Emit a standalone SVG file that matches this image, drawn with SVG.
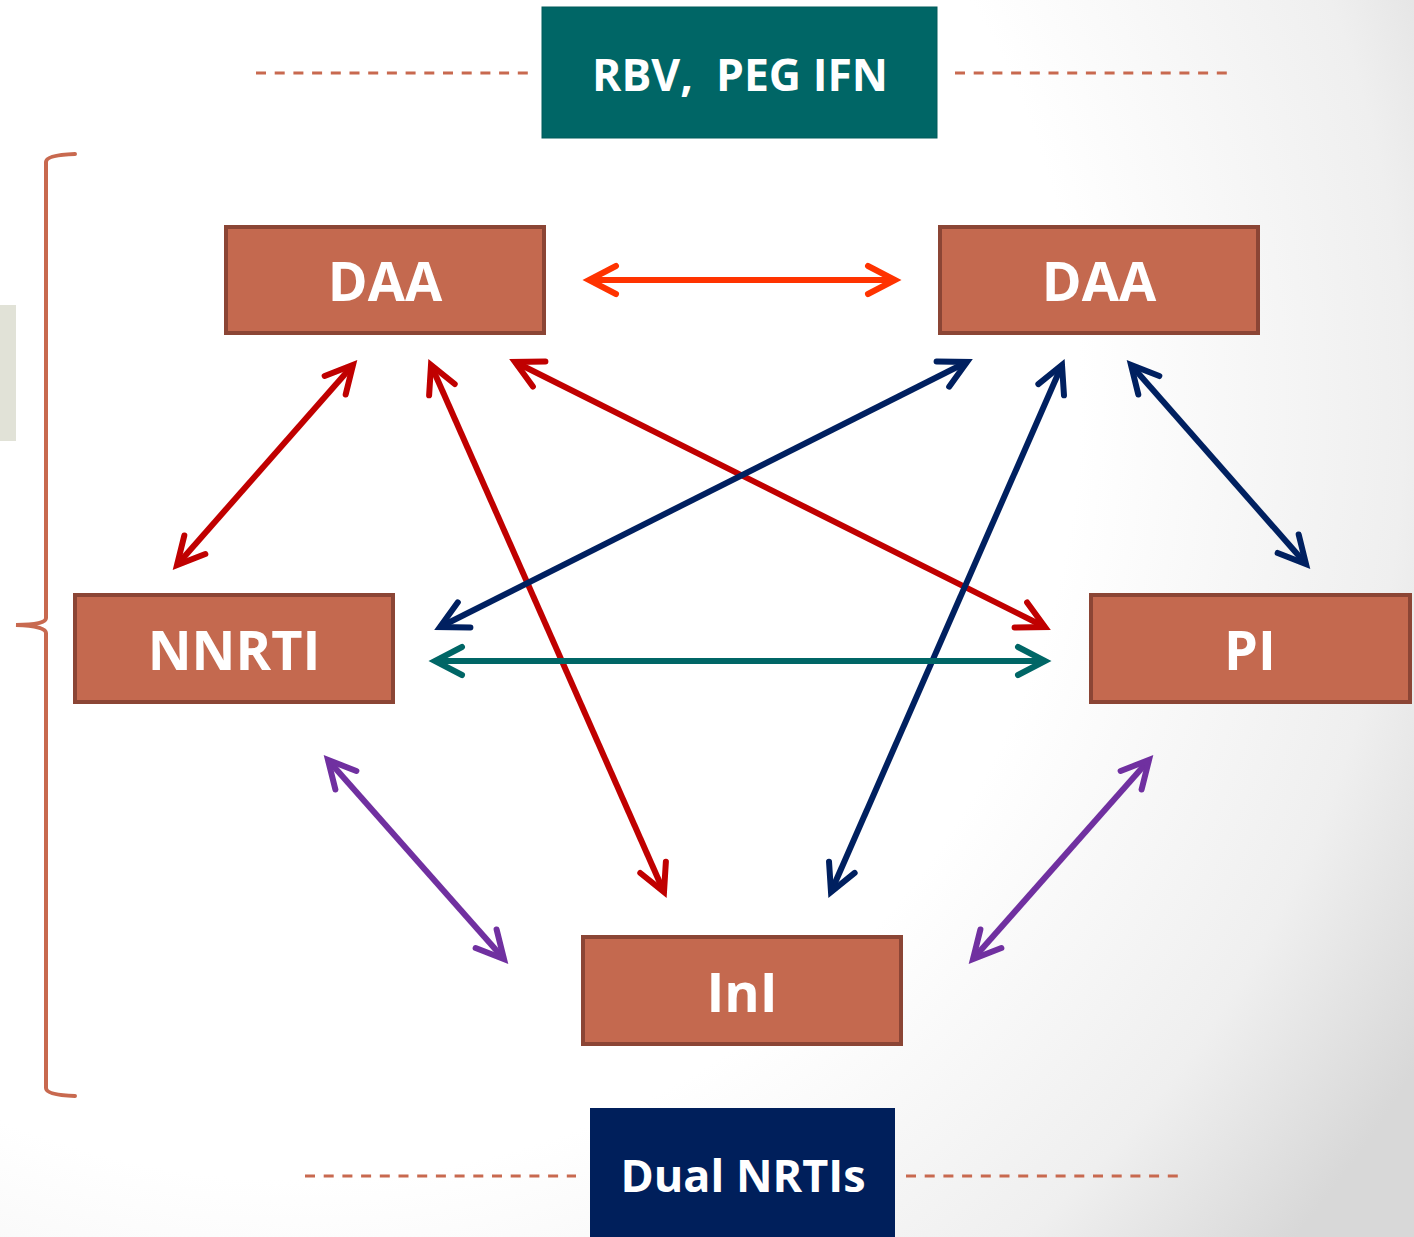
<svg xmlns="http://www.w3.org/2000/svg" width="1414" height="1237" viewBox="0 0 1414 1237">
<style>
.node rect{fill:#c4694f;stroke:#8b4535;stroke-width:4}
.lbl{font-family:"Open Sans","Liberation Sans",sans-serif;font-weight:700;fill:#fff;text-anchor:middle}
.dash{stroke:#c8694f;stroke-width:3;stroke-dasharray:10 8.7;fill:none}
.c line{stroke-width:6;fill:none}
</style>
<defs>
<radialGradient id="bg" gradientUnits="userSpaceOnUse" cx="300" cy="400" r="1300">
<stop offset="0.6" stop-color="#ffffff"/>
<stop offset="0.85" stop-color="#efefef"/>
<stop offset="1" stop-color="#d8d8d8"/>
</radialGradient>
<marker id="mO" markerUnits="userSpaceOnUse" viewBox="-40 -25 50 50" refX="0" refY="0" markerWidth="50" markerHeight="50" orient="auto-start-reverse"><path d="M-27 -14 L0 0 L-27 14" fill="none" stroke="#ff3300" stroke-width="6" stroke-linecap="round"/></marker>
<marker id="mR" markerUnits="userSpaceOnUse" viewBox="-40 -25 50 50" refX="0" refY="0" markerWidth="50" markerHeight="50" orient="auto-start-reverse"><path d="M-27 -14 L0 0 L-27 14" fill="none" stroke="#c00000" stroke-width="6" stroke-linecap="round"/></marker>
<marker id="mN" markerUnits="userSpaceOnUse" viewBox="-40 -25 50 50" refX="0" refY="0" markerWidth="50" markerHeight="50" orient="auto-start-reverse"><path d="M-27 -14 L0 0 L-27 14" fill="none" stroke="#002060" stroke-width="6" stroke-linecap="round"/></marker>
<marker id="mT" markerUnits="userSpaceOnUse" viewBox="-40 -25 50 50" refX="0" refY="0" markerWidth="50" markerHeight="50" orient="auto-start-reverse"><path d="M-27 -14 L0 0 L-27 14" fill="none" stroke="#006666" stroke-width="6" stroke-linecap="round"/></marker>
<marker id="mP" markerUnits="userSpaceOnUse" viewBox="-40 -25 50 50" refX="0" refY="0" markerWidth="50" markerHeight="50" orient="auto-start-reverse"><path d="M-27 -14 L0 0 L-27 14" fill="none" stroke="#7030a0" stroke-width="6" stroke-linecap="round"/></marker>
</defs>
<rect width="1414" height="1237" fill="url(#bg)"/>
<rect x="0" y="305" width="16" height="136" fill="#e1e2d7"/>
<path d="M75 154 Q46 155 46 162 L46 618 Q46 625 16 625 Q46 626 46 633 L46 1088 Q46 1095 75 1096" fill="none" stroke="#c8694f" stroke-width="4" stroke-linecap="round"/>
<line class="dash" x1="256" y1="73" x2="528" y2="73"/>
<line class="dash" x1="955" y1="73" x2="1228" y2="73"/>
<line class="dash" x1="305" y1="1176" x2="576" y2="1176"/>
<line class="dash" x1="906" y1="1176" x2="1178" y2="1176"/>
<g class="c" id="connectors">
<line x1="589" y1="280" x2="895" y2="280" stroke="#ff3300" marker-start="url(#mO)" marker-end="url(#mO)"/>
<line x1="353" y1="365" x2="177" y2="565" stroke="#c00000" marker-start="url(#mR)" marker-end="url(#mR)"/>
<line x1="431" y1="365" x2="664" y2="892" stroke="#c00000" marker-start="url(#mR)" marker-end="url(#mR)"/>
<line x1="515" y1="362" x2="1045" y2="627" stroke="#c00000" marker-start="url(#mR)" marker-end="url(#mR)"/>
<line x1="967" y1="362" x2="440" y2="627" stroke="#002060" marker-start="url(#mN)" marker-end="url(#mN)"/>
<line x1="1062" y1="365" x2="831" y2="892" stroke="#002060" marker-start="url(#mN)" marker-end="url(#mN)"/>
<line x1="1131" y1="365" x2="1306" y2="564" stroke="#002060" marker-start="url(#mN)" marker-end="url(#mN)"/>
<line x1="435" y1="661" x2="1045" y2="661" stroke="#006666" marker-start="url(#mT)" marker-end="url(#mT)"/>
<line x1="328" y1="760" x2="504" y2="959" stroke="#7030a0" marker-start="url(#mP)" marker-end="url(#mP)"/>
<line x1="1149" y1="760" x2="973" y2="959" stroke="#7030a0" marker-start="url(#mP)" marker-end="url(#mP)"/>
</g>
<g id="rbv"><rect x="542" y="7" width="395" height="131" fill="#006666" stroke="#005a5a" stroke-width="1"/><text class="lbl" x="740" y="91" font-size="44.5" xml:space="preserve">RBV,  PEG IFN</text></g>
<g id="daa1" class="node"><rect x="226" y="227" width="318" height="106"/><text class="lbl" x="385" y="301" font-size="54">DAA</text></g>
<g id="daa2" class="node"><rect x="940" y="227" width="318" height="106"/><text class="lbl" x="1099" y="301" font-size="54">DAA</text></g>
<g id="nnrti" class="node"><rect x="75" y="595" width="318" height="107"/><text class="lbl" x="234" y="670" font-size="54">NNRTI</text></g>
<g id="pi" class="node"><rect x="1091" y="595" width="319" height="107"/><text class="lbl" x="1250" y="670" font-size="54">PI</text></g>
<g id="inl" class="node"><rect x="583" y="937" width="318" height="107"/><text class="lbl" x="742" y="1012" font-size="54">InI</text></g>
<g id="dual"><rect x="590" y="1108" width="305" height="135" fill="#001f5b"/><text class="lbl" x="743" y="1192" font-size="45">Dual NRTIs</text></g>
</svg>
